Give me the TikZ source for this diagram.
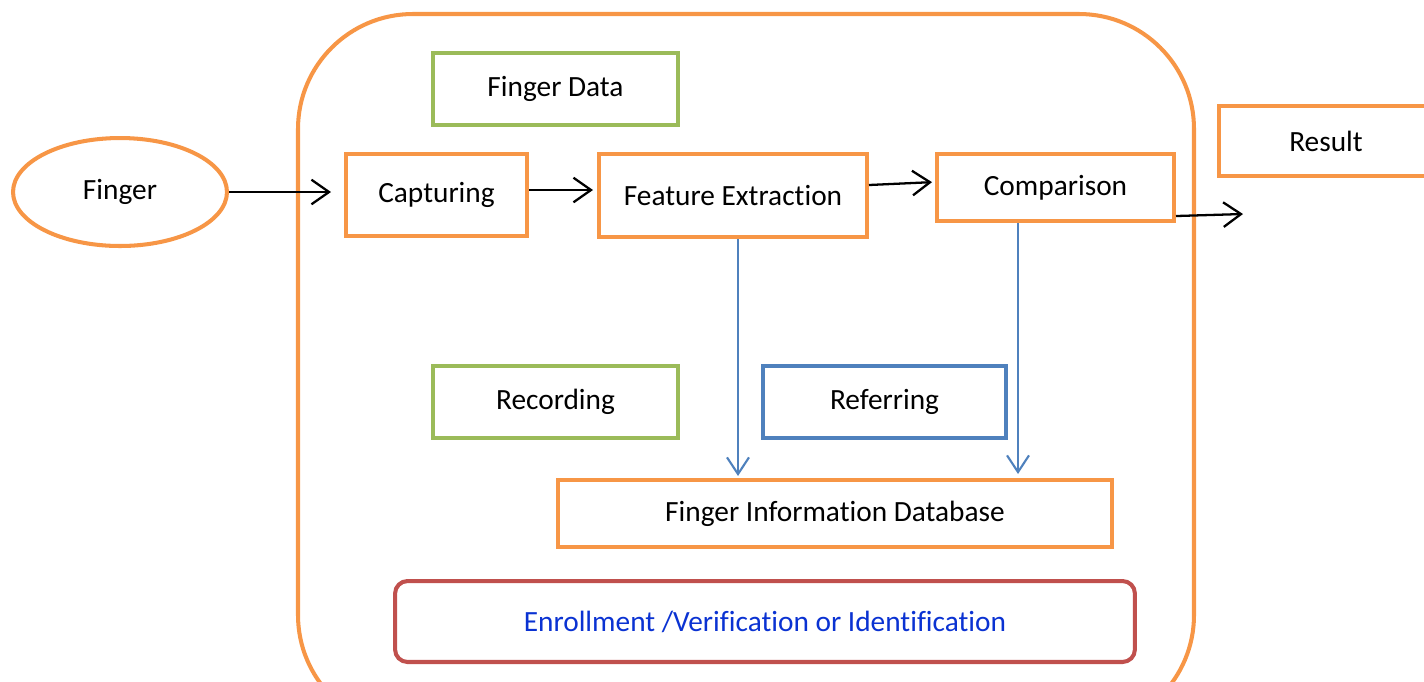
\documentclass[tikz,border=0pt]{standalone}
\usepackage{fontspec}
\setmainfont{Carlito}[Ligatures=NoCommon]
\usetikzlibrary{shapes.geometric,arrows.meta}
\definecolor{orng}{RGB}{247,150,70}
\definecolor{grn}{RGB}{155,187,89}
\definecolor{blu}{RGB}{79,129,189}
\definecolor{rd}{RGB}{192,80,77}
\definecolor{txtblu}{RGB}{10,50,210}
\tikzset{
  box/.style={draw=orng, line width=2.3pt, rectangle, inner sep=0pt, font=\fontsize{16.7}{20}\selectfont, text=black},
  gbox/.style={box, draw=grn},
  bbox/.style={box, draw=blu},
  flow/.style={-{Straight Barb[length=10pt,width=14pt,line width=1.3pt]}, line width=1.3pt, black},
  bflow/.style={-{Straight Barb[length=9.5pt,width=12.5pt,line width=1.2pt]}, line width=1.2pt, blu},
}
\begin{document}
\begin{tikzpicture}[x=0.02cm,y=-0.02cm]
\useasboundingbox (0,0) rectangle (1424,681);
\clip (0,0) rectangle (1424,681);
\draw[orng, line width=2.3pt, rounded corners=2.3cm] (298,14) rectangle (1194,730);
\node[box, ellipse, minimum width=4.28cm, minimum height=2.16cm] (finger) at (120,192) {Finger};
\node[box, minimum width=3.62cm, minimum height=1.64cm] (capt) at (436.5,195) {Capturing};
\node[box, minimum width=5.36cm, minimum height=1.66cm] (feat) at (733,195.5) {Feature Extraction};
\node[box, minimum width=4.74cm, minimum height=1.34cm] (comp) at (1055.5,187.5) {Comparison};
\node[box, minimum width=4.28cm, minimum height=1.40cm] (result) at (1326,141) {Result};
\node[gbox, minimum width=4.9cm, minimum height=1.44cm] (fdata) at (555.5,89) {Finger Data};
\node[gbox, minimum width=4.9cm, minimum height=1.44cm] (rec) at (555.5,402) {Recording};
\node[bbox, minimum width=4.86cm, minimum height=1.44cm] (ref) at (884.5,402) {Referring};
\node[box, minimum width=11.08cm, minimum height=1.34cm] (fid) at (835,513.5) {Finger Information Database};
\node[box, draw=rd, rounded corners=0.25cm, text=txtblu, minimum width=14.8cm, minimum height=1.62cm] (enr) at (765,621.5) {Enrollment /Verification or Identification};
\coordinate (resin) at (1243,214);
\draw[flow, shorten >=0.26cm] (finger.east) -- (finger.east -| capt.west);
\draw[flow, shorten >=0.08cm] ([yshift=0.1cm]capt.east) -- ([yshift=0.1cm]capt.east -| feat.west);
\draw[flow, shorten >=0.06cm] ([yshift=0.21cm]feat.east) -- ([yshift=0.11cm]comp.west);
\draw[flow] ([yshift=0.14cm]comp.south east) -- (resin);
\draw[bflow] ([xshift=0.1cm]feat.south) -- ([xshift=0.1cm,yshift=0.04cm]feat.south |- fid.north);
\draw[bflow] ([xshift=-0.75cm]comp.south) -- ([xshift=-0.75cm,yshift=0.08cm]comp.south |- fid.north);
\end{tikzpicture}
\end{document}
